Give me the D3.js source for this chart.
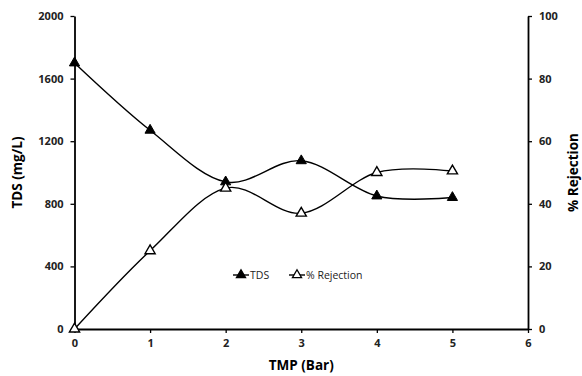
<!DOCTYPE html>
<html>
<head>
<meta charset="utf-8">
<script src="https://cdn.jsdelivr.net/npm/d3@7"></script>
<style>
  body { margin: 0; background: #fff; }
  text { font-family: "Open Sans", "Liberation Sans", sans-serif; }
</style>
</head>
<body>
<div id="chart"></div>
<script>
const tmp = [0, 1, 2, 3, 4, 5];
const tds = [1700, 1270, 940, 1075, 850, 840];
const rejection = [0, 25, 45, 37, 50, 50.5];
const xTicks = [0, 1, 2, 3, 4, 5, 6];
const tdsTicks = [0, 400, 800, 1200, 1600, 2000];
const rejTicks = [0, 20, 40, 60, 80, 100];

const width = 582, height = 376;
const margin = { left: 74.5, right: 54, top: 16, bottom: 47 };

const svg = d3.select("#chart").append("svg")
  .attr("width", width).attr("height", height);

const x = d3.scaleLinear().domain([0, 6]).range([margin.left, width - margin.right]);
const yL = d3.scaleLinear().domain([0, 2000]).range([height - margin.bottom, margin.top]);
const yR = d3.scaleLinear().domain([0, 100]).range([height - margin.bottom, margin.top]);

function styleAxis(g) {
  g.select(".domain").attr("stroke", "#000").attr("stroke-width", 1.8);
  g.selectAll(".tick line").attr("stroke", "#000").attr("stroke-width", 1.3);
  g.selectAll(".tick text")
    .attr("fill", "#222").attr("font-size", "11px").attr("font-weight", "bold");
}

svg.append("g")
  .attr("transform", `translate(0,${yL(0)})`)
  .call(d3.axisBottom(x).tickValues(xTicks).tickFormat(d3.format("d")).tickSize(4).tickSizeOuter(0).tickPadding(6))
  .call(styleAxis);

svg.append("g")
  .attr("transform", `translate(${x(0)},0)`)
  .call(d3.axisLeft(yL).tickValues(tdsTicks).tickFormat(d3.format("d")).tickSize(4).tickSizeOuter(0).tickPadding(7))
  .call(styleAxis);

svg.append("g")
  .attr("transform", `translate(${x(6)},0)`)
  .call(d3.axisRight(yR).tickValues(rejTicks).tickFormat(d3.format("d")).tickSize(4).tickSizeOuter(0).tickPadding(7))
  .call(styleAxis);

// axis titles
svg.append("text")
  .attr("x", (x(0) + x(6)) / 2).attr("y", 370)
  .attr("text-anchor", "middle").attr("font-size", "13.5px").attr("font-weight", "bold")
  .text("TMP (Bar)");

svg.append("text")
  .attr("transform", `translate(22,${(yL(0) + yL(2000)) / 2}) rotate(-90)`)
  .attr("text-anchor", "middle").attr("font-size", "13.5px").attr("font-weight", "bold")
  .text("TDS (mg/L)");

svg.append("text")
  .attr("transform", `translate(578,${(yL(0) + yL(2000)) / 2}) rotate(-90)`)
  .attr("text-anchor", "middle").attr("font-size", "13.5px").attr("font-weight", "bold")
  .text("% Rejection");

const curve = d3.curveCatmullRom.alpha(0);
const tdsLine = d3.line().x((d, i) => x(tmp[i])).y(d => yL(d)).curve(curve);
const rejLine = d3.line().x((d, i) => x(tmp[i])).y(d => yR(d)).curve(curve);

svg.append("path").datum(tds).attr("d", tdsLine)
  .attr("fill", "none").attr("stroke", "#000").attr("stroke-width", 1.4);
svg.append("path").datum(rejection).attr("d", rejLine)
  .attr("fill", "none").attr("stroke", "#000").attr("stroke-width", 1.4);

const tri = d3.symbol().type(d3.symbolTriangle).size(45);
const triSmall = d3.symbol().type(d3.symbolTriangle).size(36);

svg.selectAll(".tds-pt").data(tds).enter().append("path")
  .attr("class", "tds-pt")
  .attr("d", tri)
  .attr("transform", (d, i) => `translate(${x(tmp[i])},${yL(d)})`)
  .attr("fill", "#000").attr("stroke", "#000").attr("stroke-width", 1);

svg.selectAll(".rej-pt").data(rejection).enter().append("path")
  .attr("class", "rej-pt")
  .attr("d", tri)
  .attr("transform", (d, i) => `translate(${x(tmp[i])},${yR(d)})`)
  .attr("fill", "#fff").attr("stroke", "#000").attr("stroke-width", 1.4);

// legend
const legend = svg.append("g").attr("transform", "translate(233,275)");
const items = [
  { label: "TDS", fill: "#000", dx: 0 },
  { label: "% Rejection", fill: "#fff", dx: 56 }
];
items.forEach(it => {
  const g = legend.append("g").attr("transform", `translate(${it.dx},0)`);
  g.append("line").attr("x1", 0).attr("x2", 16).attr("y1", 0).attr("y2", 0)
    .attr("stroke", "#000").attr("stroke-width", 1.4);
  g.append("path").attr("d", triSmall).attr("transform", "translate(8,0)")
    .attr("fill", it.fill).attr("stroke", "#000").attr("stroke-width", 1.3);
  g.append("text").attr("x", 17).attr("y", 4)
    .attr("font-size", "10.5px").attr("fill", "#222").text(it.label);
});
</script>
</body>
</html>
